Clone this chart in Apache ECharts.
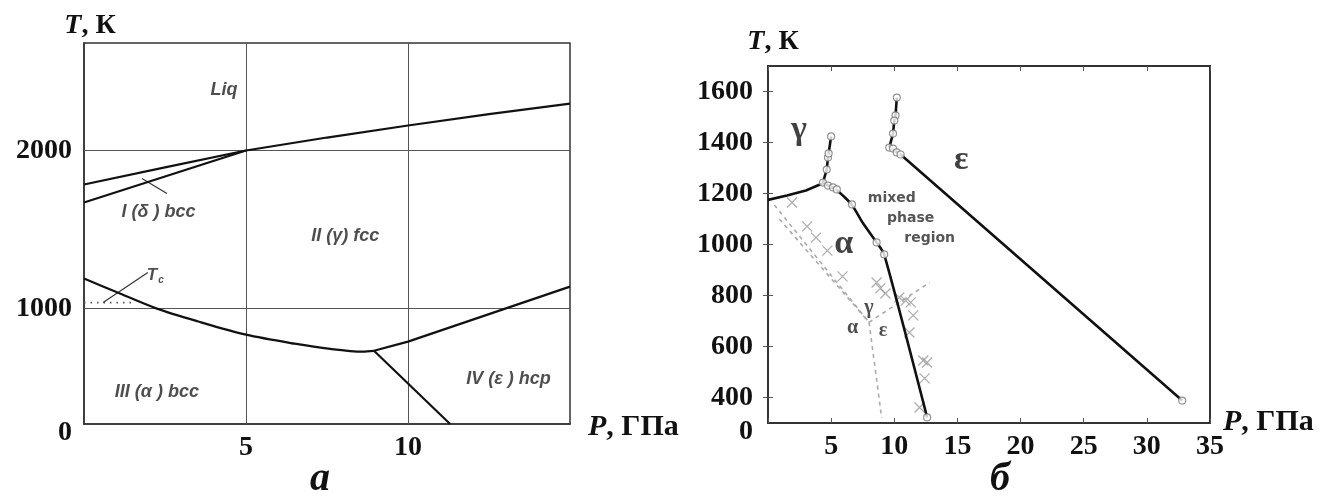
<!DOCTYPE html>
<html>
<head>
<meta charset="utf-8">
<script src="https://cdn.jsdelivr.net/npm/echarts@6/dist/echarts.min.js"></script>
<style>
html,body{margin:0;padding:0;background:#fff;}
#chart{width:1330px;height:503px;}
</style>
</head>
<body>
<div id="chart"></div>
<script>
// ---- panel a: phase diagram of Fe, P (GPa) vs T (K)
var aTicksP = [5, 10];
var aTicksT = [1000, 2000];
var aLiqUpper = [[0,1785],[2.5,1893],[5,2000],[7.5,2082],[10,2158],[12.5,2230],[15,2297]];
var aDeltaGamma = [[0,1671],[5,2000]];
var aAlphaGamma = [[0,1190],[1,1105],[2.25,1000],[3.5,920],[5,835],[6.5,778],[7.6,745],[8.6,728],[8.95,733]];
var aGammaEps = [[8.95,733],[10,791],[12.5,965],[15,1139]];
var aAlphaEps = [[8.95,733],[11.3,270]];
var aTc = [[0,1038],[1.55,1038]];
var aTcLeader = [[1.97,1228],[0.59,1038]];
var aDeltaLeader = [[1.79,1823],[2.56,1728]];
var aLabels = [
  {name:'Liq', value:[4.32,2380]},
  {name:'I (δ ) bcc', value:[2.3,1608]},
  {name:'II (γ) fcc', value:[8.06,1456]},
  {name:'III (α ) bcc', value:[2.25,475]},
  {name:'IV (ε ) hcp', value:[13.1,557]}
];
var aTcLabel = [[2.2,1212]];

// ---- panel б
var bTicksP = [5, 10, 15, 20, 25, 30, 35];
var bTicksT = [400, 600, 800, 1000, 1200, 1400, 1600];
var bGammaAlpha = [[0,1175],[1.5,1192],[3,1212],[4.35,1240]];
var bAlphaMixed = [[4.35,1240],[5.45,1213],[6.65,1155],[7.5,1085],[8.6,1008],[9.2,961],[12.6,322]];
var bGammaUp = [[4.35,1243],[4.65,1294],[4.75,1341],[4.8,1357],[5.0,1424]];
var bEpsUp = [[9.6,1380],[9.9,1435],[10.0,1486],[10.1,1506],[10.2,1576]];
var bEpsLine = [[9.6,1380],[10.5,1353],[32.8,388]];
var bCircles = [[4.35,1243],[4.75,1231],[5.15,1224],[5.45,1216],[4.65,1294],[4.75,1341],[4.8,1357],[5.0,1424],
  [6.65,1157],[8.6,1008],[9.2,961],[12.6,322],
  [10.2,1576],[10.1,1506],[10.0,1486],[9.9,1435],[9.6,1380],[9.9,1376],[10.2,1361],[10.5,1353],[32.8,388]];
var bCrosses = [[1.9,1165],[3.1,1071],[3.8,1027],[4.7,976],[5.9,875],[8.6,851],[8.9,828],[9.3,808],[10.4,792],
  [10.9,780],[11.3,773],[11.5,722],[11.2,655],[12.3,545],[12.6,537],[12.4,475],[12.0,361]];
var bDashAG1 = [[0.5,1155],[8.0,695]];
var bDashAG2 = [[0.9,1100],[8.0,695]];
var bDashAE = [[8.0,695],[9.0,320]];
var bDashGE = [[8.0,695],[12.8,851]];
var bBigLabels = [
  {name:'γ', value:[2.45,1447]},
  {name:'ε', value:[15.3,1329]},
  {name:'α', value:[6.0,1000]}
];
var bSmallLabels = [
  {name:'γ', value:[8.0,753]},
  {name:'α', value:[6.7,675]},
  {name:'ε', value:[9.1,663]}
];
var bMixedLabels = [
  {name:'mixed', value:[9.8,1180]},
  {name:'phase', value:[11.3,1102]},
  {name:'region', value:[12.8,1024]}
];

var serif = 'Liberation Serif';
var numLabel = {fontFamily: serif, fontWeight: 'bold', fontSize: 28, color: '#111'};
var zeroRich = {z: {fontFamily: serif, fontWeight: 'bold', fontSize: 28, color: '#111', padding: [17,0,0,0]}};

function solid(name, data, xi, w) {
  return {name: name, type: 'line', xAxisIndex: xi, yAxisIndex: xi, data: data, showSymbol: false, silent: true,
    lineStyle: {color: '#111', width: w}, z: 5};
}
function dashed(data) {
  return {type: 'line', xAxisIndex: 1, yAxisIndex: 1, data: data, showSymbol: false, silent: true,
    lineStyle: {color: '#aaa', width: 1.6, type: [4, 4]}, z: 3};
}
function textPts(data, xi, style) {
  return {type: 'scatter', xAxisIndex: xi, yAxisIndex: xi, data: data, symbolSize: 1, silent: true,
    itemStyle: {color: 'transparent'}, z: 6,
    label: Object.assign({show: true, position: 'inside', formatter: '{b}'}, style)};
}

var chart = echarts.init(document.getElementById('chart'));
chart.setOption({
  animation: false,
  backgroundColor: '#fff',
  grid: [
    {left: 84, top: 43, width: 486, height: 381, show: true, borderColor: '#333', borderWidth: 1.5},
    {left: 768, top: 66, width: 442, height: 357, show: true, borderColor: '#333', borderWidth: 2}
  ],
  xAxis: [
    {gridIndex: 0, type: 'value', min: 0, max: 15, interval: 5,
      axisLine: {lineStyle: {color: '#333', width: 1.5}}, axisTick: {show: false}, splitLine: {show: false},
      axisLabel: Object.assign({customValues: aTicksP, margin: 10}, numLabel)},
    {gridIndex: 1, type: 'value', min: 0, max: 35, interval: 5,
      axisLine: {lineStyle: {color: '#333', width: 2}}, splitLine: {show: false},
      axisTick: {inside: true, length: 5, lineStyle: {color: '#555'}},
      axisLabel: Object.assign({margin: 10, formatter: function (v) { return v === 0 ? '' : v; }}, numLabel)},
    {gridIndex: 1, type: 'value', min: 0, max: 35, interval: 5, position: 'top',
      axisLine: {lineStyle: {color: '#333', width: 2}}, splitLine: {show: false},
      axisTick: {inside: true, length: 5, lineStyle: {color: '#555'}}, axisLabel: {show: false}}
  ],
  yAxis: [
    {gridIndex: 0, type: 'value', min: 270, max: 2680,
      axisLine: {show: true, lineStyle: {color: '#333', width: 1.5}}, axisTick: {show: false}, splitLine: {show: false},
      axisLabel: Object.assign({customValues: [270].concat(aTicksT), margin: 12, rich: zeroRich,
        formatter: function (v) { return v < 500 ? '{z|0}' : v; }}, numLabel)},
    {gridIndex: 1, type: 'value', min: 300, max: 1700,
      axisLine: {show: true, lineStyle: {color: '#333', width: 2}}, splitLine: {show: false},
      axisTick: {inside: true, length: 5, customValues: bTicksT, lineStyle: {color: '#555'}},
      axisLabel: Object.assign({customValues: [300].concat(bTicksT), margin: 15, rich: zeroRich,
        formatter: function (v) { return v < 350 ? '{z|0}' : v; }}, numLabel)},
    {gridIndex: 1, type: 'value', min: 300, max: 1700, position: 'right',
      axisLine: {show: true, lineStyle: {color: '#333', width: 2}}, splitLine: {show: false},
      axisTick: {inside: true, length: 5, customValues: bTicksT, lineStyle: {color: '#555'}}, axisLabel: {show: false}}
  ],
  series: [
    // panel a
    Object.assign(solid('liq', aLiqUpper, 0, 2.2), {
      markLine: {silent: true, symbol: 'none', label: {show: false},
        lineStyle: {color: '#555', width: 1, type: 'solid'},
        data: aTicksP.map(function (v) { return {xAxis: v}; }).concat(aTicksT.map(function (v) { return {yAxis: v}; }))}
    }),
    solid('delta', aDeltaGamma, 0, 2.2),
    Object.assign(solid('alphaGamma', aAlphaGamma, 0, 2.2), {smooth: 0.3}),
    solid('gammaEps', aGammaEps, 0, 2.2),
    solid('alphaEps', aAlphaEps, 0, 2.2),
    {type: 'line', xAxisIndex: 0, yAxisIndex: 0, data: aTc, showSymbol: false, silent: true,
      lineStyle: {color: '#555', width: 1.6, type: [1.5, 5]}},
    {type: 'line', xAxisIndex: 0, yAxisIndex: 0, data: aTcLeader, showSymbol: false, silent: true,
      lineStyle: {color: '#333', width: 1.2}},
    {type: 'line', xAxisIndex: 0, yAxisIndex: 0, data: aDeltaLeader, showSymbol: false, silent: true,
      lineStyle: {color: '#333', width: 1.2}},
    textPts(aLabels, 0, {fontFamily: 'Liberation Sans', fontStyle: 'italic', fontWeight: 'bold', fontSize: 18, color: '#222'}),
    textPts(aTcLabel, 0, {formatter: '{t|T}{s|c}', rich: {
      t: {fontFamily: 'Liberation Sans', fontStyle: 'italic', fontWeight: 'bold', fontSize: 17, color: '#222'},
      s: {fontFamily: 'Liberation Sans', fontStyle: 'italic', fontWeight: 'bold', fontSize: 10, color: '#222', padding: [10, 0, 0, 1]}}}),
    // panel б
    dashed(bDashAG1), dashed(bDashAG2), dashed(bDashAE), dashed(bDashGE),
    {type: 'scatter', xAxisIndex: 1, yAxisIndex: 1, data: bCrosses, silent: true, symbol: 'path://M0,0L10,10M10,0L0,10',
      symbolSize: 10, itemStyle: {color: 'transparent', borderColor: '#9a9a9a', borderWidth: 1.3}, z: 3},
    solid('gammaAlpha', bGammaAlpha, 1, 2.6),
    Object.assign(solid('alphaMixed', bAlphaMixed, 1, 2.6), {smooth: 0.2}),
    solid('gammaUp', bGammaUp, 1, 2.6),
    solid('epsUp', bEpsUp, 1, 2.6),
    solid('epsLine', bEpsLine, 1, 2.6),
    {type: 'scatter', xAxisIndex: 1, yAxisIndex: 1, data: bCircles, silent: true, symbol: 'circle', symbolSize: 7,
      itemStyle: {color: '#fff', borderColor: '#777', borderWidth: 1.2}, z: 7},
    textPts(bBigLabels, 1, {fontFamily: serif, fontWeight: 'bold', fontSize: 34, color: '#111'}),
    textPts(bSmallLabels, 1, {fontFamily: serif, fontSize: 20, fontWeight: 'bold', color: '#222'}),
    textPts(bMixedLabels, 1, {fontFamily: 'DejaVu Sans', fontWeight: 'bold', fontSize: 14, color: '#2a2a2a'})
  ],
  graphic: [
    {type: 'text', x: 90, y: 26, style: {text: '{i|T}{n|, К}', align: 'center', verticalAlign: 'middle',
      rich: {i: {fontFamily: serif, fontStyle: 'italic', fontWeight: 'bold', fontSize: 28, fill: '#111'},
             n: {fontFamily: serif, fontWeight: 'bold', fontSize: 28, fill: '#111'}}}},
    {type: 'text', x: 773, y: 42, style: {text: '{i|T}{n|, К}', align: 'center', verticalAlign: 'middle',
      rich: {i: {fontFamily: serif, fontStyle: 'italic', fontWeight: 'bold', fontSize: 28, fill: '#111'},
             n: {fontFamily: serif, fontWeight: 'bold', fontSize: 28, fill: '#111'}}}},
    {type: 'text', x: 588, y: 427, style: {text: '{i|P}{n|, ГПа}', align: 'left', verticalAlign: 'middle',
      rich: {i: {fontFamily: serif, fontStyle: 'italic', fontWeight: 'bold', fontSize: 30, fill: '#111'},
             n: {fontFamily: serif, fontWeight: 'bold', fontSize: 30, fill: '#111'}}}},
    {type: 'text', x: 1223, y: 422, style: {text: '{i|P}{n|, ГПа}', align: 'left', verticalAlign: 'middle',
      rich: {i: {fontFamily: serif, fontStyle: 'italic', fontWeight: 'bold', fontSize: 30, fill: '#111'},
             n: {fontFamily: serif, fontWeight: 'bold', fontSize: 30, fill: '#111'}}}},
    {type: 'text', x: 320, y: 480, style: {text: 'а', align: 'center', verticalAlign: 'middle',
      fontFamily: serif, fontStyle: 'italic', fontWeight: 'bold', fontSize: 40, fill: '#111'}},
    {type: 'text', x: 1000, y: 480, style: {text: 'б', align: 'center', verticalAlign: 'middle',
      fontFamily: serif, fontStyle: 'italic', fontWeight: 'bold', fontSize: 40, fill: '#111'}}
  ]
});
</script>
</body>
</html>
